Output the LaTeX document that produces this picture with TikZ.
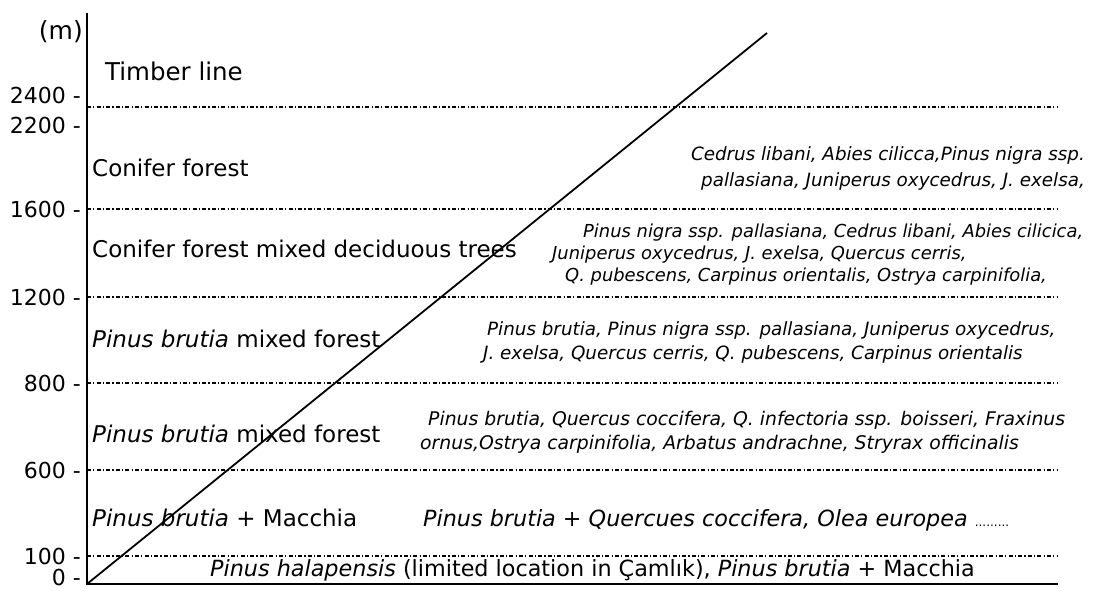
\documentclass[tikz,border=0pt]{standalone}
\usepackage{fontspec}
\setmainfont{DejaVu Sans}
\begin{document}
\begin{tikzpicture}[x=1pt,y=-1pt,
  band/.style={line width=1.3pt, dash pattern=on 4pt off 2.2pt on 1.2pt off 2.2pt},
  solidline/.style={line width=2pt},
  tick/.style={anchor=base east, inner sep=0pt, font=\fontsize{22}{26}\selectfont},
  zone/.style={anchor=base west, inner sep=0pt, font=\fontsize{23}{27}\selectfont},
  spec/.style={anchor=base west, inner sep=0pt, font=\fontsize{18.3}{21}\selectfont\itshape},
  specb/.style={spec, font=\fontsize{17.9}{21}\selectfont\itshape},
  low/.style={anchor=base west, inner sep=0pt, font=\fontsize{22.3}{26}\selectfont}]
\useasboundingbox (0,0) rectangle (1104,591);
% coordinates
\coordinate (axtop) at (87,13);
\coordinate (O) at (87,584);
\coordinate (xend) at (1058,584);
\coordinate (T) at (767,33);
\foreach \n/\y in {l2400/107,l1600/209,l1200/297,l800/383,l600/470,l100/556}{
  \coordinate (\n a) at (87,\y);
  \coordinate (\n b) at (1058,\y);
}
% bands
\foreach \n in {l2400,l1600,l1200,l800,l600,l100}{
  \draw[band] (\n a) -- (\n b);
}
% axes
\draw[solidline] (axtop) -- (O) -- (xend);
\draw[line width=1.8pt] (O) -- (T);
% tick labels
\node[tick, font=\fontsize{25}{28}\selectfont] (m) at (83,40) {(m)};
\node[tick] (t2400) at (81,104) {2400 -};
\node[tick] (t2200) at (81,134) {2200 -};
\node[tick] (t1600) at (81,218) {1600 -};
\node[tick] (t1200) at (81,305) {1200 -};
\node[tick] (t800) at (81,391) {800 -};
\node[tick] (t600) at (81,478) {600 -};
\node[tick] (t100) at (81,564) {100 -};
\node[tick] (t0) at (81,585) {0 -};
% zone labels
\node[zone, font=\fontsize{24.5}{28}\selectfont] (z1) at (105,81) {Timber line};
\node[zone] (z2) at (92,177) {Conifer forest};
\node[zone] (z3) at (92,257) {Conifer forest mixed deciduous trees};
\node[zone] (z4) at (92,347) {\textit{Pinus brutia} mixed forest};
\node[zone] (z5) at (92,442) {\textit{Pinus brutia} mixed forest};
\node[zone] (z6) at (92,526) {\textit{Pinus brutia} + Macchia};
% species
\node[spec, anchor=base east] (s1a) at (1085,161) {Cedrus libani, Abies cilicca,Pinus nigra ssp.};
\node[spec, anchor=base east] (s1b) at (1085,186) {pallasiana, Juniperus oxycedrus, J. exelsa,};
\node[specb] (s2a) at (583,237) {Pinus nigra ssp. pallasiana, Cedrus libani, Abies cilicica,};
\node[specb] (s2b) at (552,259) {Juniperus oxycedrus, J. exelsa, Quercus cerris,};
\node[specb] (s2c) at (565,281) {Q. pubescens, Carpinus orientalis, Ostrya carpinifolia,};
\node[spec] (s3a) at (487,335) {Pinus brutia, Pinus nigra ssp. pallasiana, Juniperus oxycedrus,};
\node[spec] (s3b) at (483,359) {J. exelsa, Quercus cerris, Q. pubescens, Carpinus orientalis};
\node[spec, font=\fontsize{18.8}{21}\selectfont\itshape] (s4a) at (428,425) {Pinus brutia, Quercus coccifera, Q. infectoria ssp. boisseri, Fraxinus};
\node[spec, font=\fontsize{18.8}{21}\selectfont\itshape] (s4b) at (420,449) {ornus,Ostrya carpinifolia, Arbatus andrachne, Stryrax officinalis};
\node[low] (s5) at (423,526) {\textit{Pinus brutia} + \textit{Quercues coccifera, Olea europea} {\fontsize{12}{13}\selectfont.........}};
\node[low] (s6) at (210,576) {\textit{Pinus halapensis} (limited location in Çamlık), \textit{Pinus brutia} + Macchia};
\end{tikzpicture}
\end{document}
